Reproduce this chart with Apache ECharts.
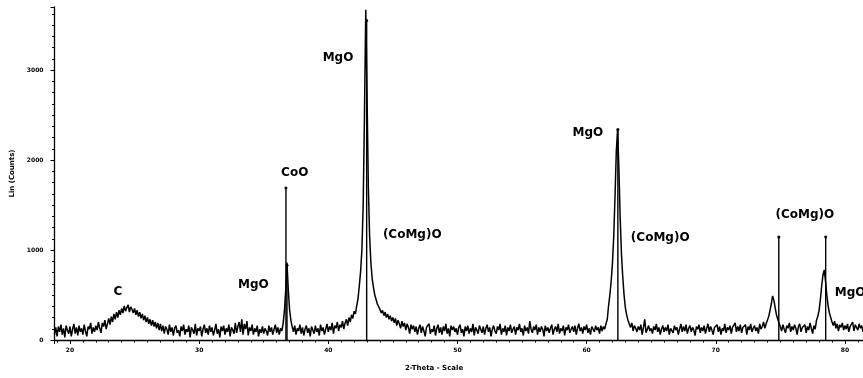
<!DOCTYPE html>
<html>
<head>
<meta charset="utf-8">
<script src="https://cdn.jsdelivr.net/npm/echarts@6/dist/echarts.min.js"></script>
<style>
  html, body { margin: 0; padding: 0; background: #fff; }
  #xrd { width: 863px; height: 378px; }
</style>
</head>
<body>
<div id="xrd"></div>
<script>
// scan: start angle, step, counts (Lin)
var startAngle = 18.8;
var stepAngle = 0.1;
var counts = [
  60, 140,
  40, 150, 90, 170, 60, 130, 30, 160, 110, 70,          // 19
  150, 40, 120, 180, 70, 140, 50, 160, 90, 130,         // 20
  60, 170, 100, 40, 150, 120, 190, 70, 140, 90,         // 21
  160, 110, 200, 130, 80, 190, 150, 220, 120, 180,      // 22
  240, 170, 260, 200, 290, 230, 310, 250, 330, 280,     // 23
  350, 300, 380, 320, 360, 390, 310, 370, 340, 300,     // 24
  350, 280, 330, 260, 310, 240, 290, 220, 270, 200,     // 25
  250, 180, 230, 160, 220, 150, 200, 130, 190, 110,     // 26
  180, 100, 160, 70, 150, 120, 60, 170, 90, 140,        // 27
  50, 130, 160, 80, 110, 40, 150, 100, 170, 60,         // 28
  120, 90, 160, 30, 140, 110, 70, 180, 50, 130,         // 29
  100, 150, 40, 120, 170, 80, 130, 60, 160, 90,         // 30
  140, 50, 110, 180, 70, 120, 30, 150, 100, 160,        // 31
  60, 130, 90, 170, 40, 140, 110, 70, 190, 80,          // 32
  150, 200, 90, 230, 60, 180, 120, 210, 50, 140,        // 33
  100, 170, 60, 130, 90, 160, 40, 120, 80, 150,         // 34
  70, 130, 100, 50, 160, 90, 140, 60, 120, 170,         // 35
  80, 140, 60, 130, 100, 180, 320, 550, 860, 560,       // 36
  340, 220, 150, 90, 160, 60, 130, 100, 170, 70,        // 37
  140, 50, 120, 160, 80, 130, 40, 150, 110, 70,         // 38
  160, 90, 130, 50, 170, 100, 140, 60, 120, 180,        // 39
  90, 150, 110, 190, 70, 160, 130, 200, 100, 170,       // 40
  140, 210, 120, 190, 230, 160, 250, 200, 280, 240,     // 41
  320, 290, 380, 460, 600, 760, 1000, 1500, 2500, 3670, // 42
  2700, 1700, 1150, 850, 680, 580, 500, 450, 400, 370,  // 43
  340, 300, 330, 270, 310, 250, 290, 230, 270, 210,     // 44
  250, 190, 240, 160, 220, 180, 130, 210, 150, 190,     // 45
  110, 180, 140, 70, 170, 120, 160, 90, 150, 60,        // 46
  130, 170, 80, 150, 100, 40, 140, 120, 180, 70,        // 47
  120, 90, 160, 50, 130, 170, 80, 140, 60, 150,         // 48
  100, 180, 70, 130, 40, 160, 110, 150, 90, 130,        // 49
  60, 140, 170, 80, 120, 40, 150, 100, 160, 70,         // 50
  130, 90, 180, 50, 140, 110, 70, 160, 120, 80,         // 51
  150, 60, 130, 170, 90, 140, 40, 120, 160, 100,        // 52
  70, 150, 110, 180, 60, 130, 90, 160, 50, 140,         // 53
  100, 170, 80, 120, 150, 60, 140, 110, 180, 90,        // 54
  130, 50, 160, 100, 140, 70, 210, 120, 80, 150,        // 55
  110, 170, 60, 140, 90, 150, 120, 40, 160, 100,        // 56
  140, 80, 130, 170, 60, 120, 150, 90, 180, 70,         // 57
  130, 100, 160, 50, 140, 110, 170, 80, 120, 150,       // 58
  90, 160, 60, 130, 180, 100, 140, 70, 150, 110,        // 59
  170, 80, 130, 60, 150, 120, 90, 160, 110, 140,        // 60
  70, 160, 100, 150, 120, 180, 230, 380, 500, 650,      // 61
  850, 1150, 1600, 2100, 2340, 1900, 1350, 950, 700, 500, // 62
  360, 280, 220, 180, 140, 190, 100, 160, 130, 90,      // 63
  150, 110, 170, 60, 140, 230, 80, 120, 160, 100,       // 64
  130, 70, 150, 110, 180, 90, 140, 60, 120, 160,        // 65
  90, 140, 100, 170, 60, 130, 150, 80, 160, 110,        // 66
  140, 60, 120, 180, 90, 150, 100, 170, 70, 130,        // 67
  160, 90, 140, 110, 50, 150, 120, 170, 80, 140,        // 68
  100, 160, 70, 130, 180, 90, 150, 110, 60, 140,        // 69
  120, 170, 90, 150, 60, 130, 100, 180, 80, 140,        // 70
  110, 160, 70, 140, 120, 190, 90, 150, 100, 170,       // 71
  80, 140, 120, 170, 60, 150, 110, 180, 90, 130,        // 72
  160, 100, 140, 70, 180, 120, 150, 200, 130, 180,      // 73
  220, 260, 330, 400, 490, 440, 360, 280, 230, 190,     // 74
  150, 100, 170, 120, 80, 160, 130, 190, 90, 150,       // 75
  110, 170, 130, 60, 150, 180, 90, 140, 120, 170,       // 76
  80, 150, 110, 190, 130, 70, 160, 120, 220, 260,       // 77
  330, 450, 600, 720, 780, 650, 500, 380, 300, 250,     // 78
  200, 160, 210, 130, 180, 100, 170, 140, 190, 110,     // 79
  160, 120, 180, 90, 150, 130, 200, 100, 170, 140,      // 80
  110, 180, 130, 160, 90                                // 81
];

// reference sticks
var stickAngles = [36.72, 36.8, 42.97, 62.42, 74.88, 78.51];
var stickCounts = [1690, 830, 3550, 2340, 1144, 1144];

// phase labels
var labelTexts  = ['C', 'MgO', 'CoO', 'MgO', '(CoMg)O', 'MgO', '(CoMg)O', '(CoMg)O', 'MgO'];
var labelAngles = [23.7, 34.2, 37.4, 40.75, 46.5, 60.1, 65.7, 76.9, 80.4];
var labelCounts = [530, 610, 1860, 3130, 1170, 2300, 1130, 1390, 520];

var xTickLabels = [20, 30, 40, 50, 60, 70, 80];
var yTickLabels = [0, 1000, 2000, 3000];

var scan = counts.map(function (c, i) {
  return [+(startAngle + i * stepAngle).toFixed(2), c];
});
var sticks = stickAngles.map(function (a, i) { return [a, stickCounts[i]]; });
var phaseLabels = labelTexts.map(function (t, i) {
  return { name: t, value: [labelAngles[i], labelCounts[i]] };
});

var chart = echarts.init(document.getElementById('xrd'));
var option = {
  backgroundColor: '#fff',
  animation: false,
  grid: { left: 54.5, right: 0, top: 7, bottom: 38 },
  xAxis: {
    type: 'value',
    min: 18.8,
    max: 81.4,
    minInterval: 10,
    maxInterval: 10,
    axisLine: { lineStyle: { color: '#000', width: 1.3 } },
    axisTick: { length: 4, lineStyle: { color: '#000' } },
    minorTick: { show: true, splitNumber: 10, length: 2.5, lineStyle: { color: '#000' } },
    splitLine: { show: false },
    axisLabel: {
      showMinLabel: false, showMaxLabel: false,
      color: '#000', fontSize: 6, fontWeight: 'bold', margin: 7,
      fontFamily: 'DejaVu Sans',
      formatter: function (v) { return xTickLabels.indexOf(v) >= 0 ? v : ''; }
    }
  },
  yAxis: {
    type: 'value',
    min: 0,
    max: 3700,
    minInterval: 1000,
    maxInterval: 1000,
    name: 'Lin (Counts)',
    nameLocation: 'middle',
    nameGap: 31,
    nameTextStyle: { color: '#000', fontSize: 7, fontWeight: 'bold', fontFamily: 'DejaVu Sans' },
    axisLine: { show: true, lineStyle: { color: '#000', width: 1.3 } },
    axisTick: { show: true, length: 4, lineStyle: { color: '#000' } },
    minorTick: { show: true, splitNumber: 8, length: 2.5, lineStyle: { color: '#000' } },
    splitLine: { show: false },
    axisLabel: {
      showMaxLabel: false,
      color: '#000', fontSize: 6, fontWeight: 'bold', margin: 11,
      fontFamily: 'DejaVu Sans',
      formatter: function (v) { return yTickLabels.indexOf(v) >= 0 ? v : ''; }
    }
  },
  graphic: [{
    type: 'text',
    left: 405,
    top: 365,
    style: { text: '2-Theta - Scale', fill: '#000', font: 'bold 7px "DejaVu Sans"' }
  }],
  series: [{
    type: 'line',
    data: scan,
    symbol: 'none',
    lineStyle: { color: '#000', width: 1.5 },
    z: 3
  }, {
    type: 'bar',
    data: sticks,
    barWidth: 1.4,
    itemStyle: { color: '#000' },
    z: 4
  }, {
    type: 'scatter',
    data: sticks,
    symbol: 'circle',
    symbolSize: 3,
    itemStyle: { color: '#000', opacity: 1 },
    z: 5
  }, {
    type: 'scatter',
    data: phaseLabels,
    symbolSize: 0,
    itemStyle: { color: '#000', opacity: 1 },
    label: {
      show: true,
      position: 'inside',
      formatter: '{b}',
      color: '#000',
      textBorderWidth: 0,
      fontSize: 12,
      fontWeight: 'bold',
      fontFamily: 'DejaVu Sans'
    },
    z: 6
  }]
};
chart.setOption(option);
</script>
</body>
</html>
